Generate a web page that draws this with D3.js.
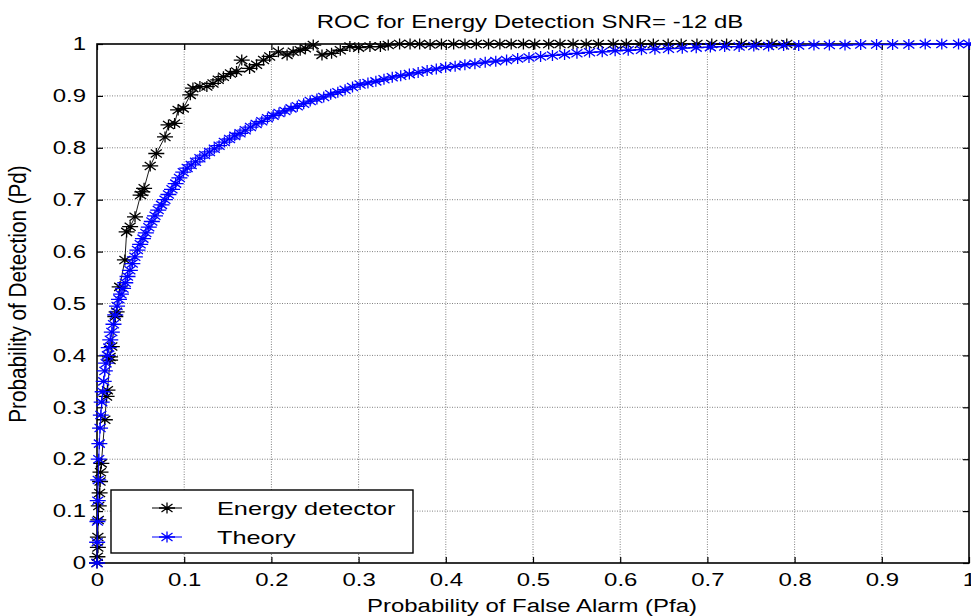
<!DOCTYPE html>
<html>
<head>
<meta charset="utf-8">
<script src="https://cdn.jsdelivr.net/npm/d3@7/dist/d3.min.js"></script>
<style>
  body { margin: 0; background: #fff; }
  svg { display: block; font-family: "Liberation Sans", Arial, sans-serif; }
  .grid line { stroke: #808080; stroke-width: 1; stroke-dasharray: 1,1.5; }
  .tick text { font-size: 18px; fill: #000; }
</style>
</head>
<body>
<svg id="chart"></svg>
<script>
// ROC curve, energy detection at SNR = -12 dB
var titleText = "ROC for Energy Detection SNR= -12 dB",
  xLabelText = "Probability of False Alarm (Pfa)",
  yLabelText = "Probability of Detection (Pd)",
  legendLabels = ["Energy detector", "Theory"];

var xTicks = [0, 0.1, 0.2, 0.3, 0.4, 0.5, 0.6, 0.7, 0.8, 0.9, 1],
  xTickLabels = ["0", "0.1", "0.2", "0.3", "0.4", "0.5", "0.6", "0.7", "0.8", "0.9", "1"],
  yTicks = [0, 0.1, 0.2, 0.3, 0.4, 0.5, 0.6, 0.7, 0.8, 0.9, 1],
  yTickLabels = ["0", "0.1", "0.2", "0.3", "0.4", "0.5", "0.6", "0.7", "0.8", "0.9", "1"];

// simulated detector (black)
var pfSim = [0, 0.0005, 0.001, 0.001, 0.0015, 0.002, 0.003, 0.0035, 0.004, 0.005,
  0.009, 0.011, 0.012, 0.015, 0.015, 0.017, 0.021, 0.0225, 0.026, 0.032,
  0.034, 0.038, 0.0436, 0.05, 0.052, 0.054, 0.061, 0.068, 0.078, 0.082,
  0.089, 0.093, 0.099, 0.107, 0.110, 0.118, 0.126, 0.133, 0.139, 0.145,
  0.153, 0.160, 0.166, 0.175, 0.183, 0.191, 0.198, 0.208, 0.218, 0.225,
  0.233, 0.239, 0.248, 0.258, 0.269, 0.279, 0.29, 0.30, 0.313, 0.325,
  0.334, 0.347, 0.359, 0.37, 0.382, 0.395, 0.409, 0.422, 0.435, 0.449,
  0.462, 0.475, 0.489, 0.502, 0.518, 0.531, 0.546, 0.561, 0.575, 0.592,
  0.607, 0.623, 0.638, 0.655, 0.67, 0.688, 0.705, 0.722, 0.739, 0.756,
  0.774, 0.791];
var pdSim = [0, 0.012, 0.03, 0.05, 0.083, 0.11, 0.135, 0.157, 0.175, 0.192,
  0.276, 0.321, 0.333, 0.391, 0.397, 0.417, 0.475, 0.484, 0.532, 0.584,
  0.638, 0.648, 0.667, 0.709, 0.715, 0.722, 0.765, 0.789, 0.821, 0.844,
  0.847, 0.873, 0.876, 0.902, 0.915, 0.918, 0.918, 0.924, 0.931, 0.937,
  0.943, 0.947, 0.969, 0.953, 0.96, 0.969, 0.976, 0.985, 0.979, 0.985,
  0.988, 0.992, 0.998, 0.979, 0.982, 0.988, 0.995, 0.993, 0.995, 0.995,
  0.998, 1, 1, 1, 0.999, 1, 1, 1, 1, 1,
  1, 1, 1, 1, 1, 1, 1, 1, 1, 1,
  1, 1, 1, 1, 1, 1, 1, 1, 1, 1,
  1, 1];

// theoretical curve (blue)
var pfTheory = [0, 0.0002, 0.0005, 0.0009, 0.0014, 0.002, 0.0027, 0.0035, 0.0044, 0.0054,
  0.0065, 0.0077, 0.009, 0.0104, 0.0119, 0.0135, 0.0152, 0.017, 0.0189, 0.0209,
  0.023, 0.0252, 0.0275, 0.0299, 0.0324, 0.035, 0.0377, 0.0405, 0.0434, 0.0464,
  0.0495, 0.0527, 0.056, 0.0594, 0.0629, 0.0665, 0.0702, 0.074, 0.0779, 0.0819,
  0.086, 0.0902, 0.0945, 0.0989, 0.1034, 0.108, 0.113, 0.118, 0.1235, 0.129,
  0.1345, 0.14, 0.146, 0.152, 0.158, 0.164, 0.170, 0.176, 0.1825, 0.189,
  0.1955, 0.202, 0.2087, 0.2155, 0.2225, 0.2297, 0.237, 0.2445, 0.2522, 0.26,
  0.268, 0.2762, 0.2845, 0.293, 0.3017, 0.3107, 0.3198, 0.3291, 0.3386, 0.3483,
  0.3582, 0.3683, 0.3786, 0.3891, 0.3998, 0.4107, 0.4219, 0.4334, 0.4452, 0.4573,
  0.4697, 0.4824, 0.4954, 0.5087, 0.5223, 0.5362, 0.5504, 0.5648, 0.5794, 0.5942,
  0.6092, 0.6244, 0.6398, 0.6554, 0.6712, 0.6872, 0.7034, 0.7198, 0.7364, 0.7532,
  0.7702, 0.7874, 0.8047, 0.8222, 0.8399, 0.8578, 0.8758, 0.894, 0.9124, 0.931,
  0.9498, 0.9688, 0.988, 1];
var pdTheory = [0, 0.04, 0.08, 0.12, 0.16, 0.2, 0.23, 0.26, 0.285, 0.31,
  0.33, 0.35, 0.37, 0.385, 0.40, 0.415, 0.43, 0.445, 0.46, 0.478,
  0.495, 0.508, 0.518, 0.529, 0.54, 0.552, 0.564, 0.577, 0.59, 0.603,
  0.614, 0.625, 0.636, 0.647, 0.658, 0.669, 0.68, 0.69, 0.70, 0.71,
  0.72, 0.731, 0.742, 0.753, 0.761, 0.767, 0.773, 0.780, 0.786, 0.792,
  0.798, 0.804, 0.811, 0.817, 0.823, 0.828, 0.834, 0.840, 0.846, 0.851,
  0.857, 0.862, 0.867, 0.871, 0.876, 0.880, 0.885, 0.890, 0.894, 0.898,
  0.903, 0.907, 0.912, 0.917, 0.922, 0.925, 0.928, 0.932, 0.936, 0.939,
  0.942, 0.945, 0.949, 0.952, 0.955, 0.957, 0.960, 0.962, 0.965, 0.967,
  0.969, 0.972, 0.974, 0.976, 0.978, 0.980, 0.982, 0.984, 0.985, 0.987,
  0.988, 0.989, 0.990, 0.991, 0.992, 0.993, 0.994, 0.995, 0.995, 0.996,
  0.996, 0.997, 0.997, 0.998, 0.998, 0.998, 0.999, 0.999, 0.999, 0.999,
  1, 1, 1, 1];

var RocChart = (function(){

  var that = {},
    width = 971,
    height = 616,
    left = 97,
    right = 969,
    top = 44,
    bottom = 563,
    stretch = 1.33, // the original picture is wider than it is tall
    colors = ["#000000", "#0000ff"],
    svg,
    x,
    y;

  // matlab style asterisk, a bit wider than high
  var asterisk = "M-8,0H8M0,-5.5V5.5M-5.5,-4L5.5,4M-5.5,4L5.5,-4";

  function pairs(xs, ys){
    var n = Math.min(xs.length, ys.length), out = [];
    for (var i = 0; i < n; i++) out.push([xs[i], ys[i]]);
    return out;
  }

  function widen(sel, factor){
    sel.each(function(){
      var w = this.getComputedTextLength();
      d3.select(this).attr("textLength", w * factor).attr("lengthAdjust", "spacingAndGlyphs");
    });
  }

  function init(){
    svg = d3.select("#chart")
      .attr("width", width)
      .attr("height", height);

    svg.append("rect").attr("width", width).attr("height", height).attr("fill", "#fff");

    x = d3.scaleLinear().domain([0, 1]).range([left, right]);
    y = d3.scaleLinear().domain([0, 1]).range([bottom, top]);

    drawGrid();
    drawAxes();
    drawSeries(pairs(pfSim, pdSim), colors[0]);
    drawSeries(pairs(pfTheory, pdTheory), colors[1]);
    drawLegend();
    drawLabels();
  }

  function drawGrid(){
    var grid = svg.append("g").attr("class", "grid");
    grid.selectAll(".gx")
      .data(xTicks.slice(1, -1)).enter()
      .append("line")
      .attr("x1", function(d){ return x(d) }).attr("x2", function(d){ return x(d) })
      .attr("y1", top).attr("y2", bottom);
    grid.selectAll(".gy")
      .data(yTicks.slice(1, -1)).enter()
      .append("line")
      .attr("y1", function(d){ return y(d) }).attr("y2", function(d){ return y(d) })
      .attr("x1", left).attr("x2", right);
  }

  function drawAxes(){
    var xAxis = d3.axisBottom(x).tickValues(xTicks)
      .tickFormat(function(d, i){ return xTickLabels[i] })
      .tickSize(-6).tickPadding(10);
    var yAxis = d3.axisLeft(y).tickValues(yTicks)
      .tickFormat(function(d, i){ return yTickLabels[i] })
      .tickSize(-6).tickPadding(11);

    var gx = svg.append("g").attr("transform", "translate(0," + bottom + ")").call(xAxis);
    var gy = svg.append("g").attr("transform", "translate(" + left + ",0)").call(yAxis);
    svg.append("g").attr("transform", "translate(0," + top + ")")
      .call(d3.axisTop(x).tickValues(xTicks).tickFormat("").tickSize(-6));
    svg.append("g").attr("transform", "translate(" + right + ",0)")
      .call(d3.axisRight(y).tickValues(yTicks).tickFormat("").tickSize(-6));

    svg.selectAll(".domain").remove();
    svg.selectAll(".tick line").attr("stroke", "#000").attr("stroke-width", 1.2);
    gx.selectAll("text").call(widen, stretch);
    gy.selectAll("text").call(widen, stretch);

    svg.append("rect")
      .attr("x", left).attr("y", top)
      .attr("width", right - left).attr("height", bottom - top)
      .attr("fill", "none").attr("stroke", "#000").attr("stroke-width", 1.6);
  }

  function drawSeries(data, color){
    var line = d3.line()
      .x(function(d){ return x(d[0]) })
      .y(function(d){ return y(d[1]) });

    var g = svg.append("g");
    g.append("path")
      .datum(data)
      .attr("d", line)
      .attr("fill", "none")
      .attr("stroke", color)
      .attr("stroke-width", 0.9);

    g.selectAll(".mark")
      .data(data).enter()
      .append("path")
      .attr("class", "mark")
      .attr("transform", function(d){ return "translate(" + x(d[0]) + "," + y(d[1]) + ")" })
      .attr("d", asterisk)
      .attr("fill", "none")
      .attr("stroke", color)
      .attr("stroke-width", 1.3);
  }

  function drawLegend(){
    var box = svg.append("g");
    box.append("rect")
      .attr("x", 111).attr("y", 490)
      .attr("width", 302).attr("height", 63)
      .attr("fill", "#fff").attr("stroke", "#000").attr("stroke-width", 1.4);

    var rows = box.selectAll(".entry")
      .data(legendLabels).enter()
      .append("g")
      .attr("class", "entry")
      .attr("transform", function(d, i){ return "translate(0," + (508 + i * 29) + ")" });

    rows.append("line")
      .attr("x1", 152).attr("x2", 182)
      .attr("stroke", function(d, i){ return colors[i] })
      .attr("stroke-width", 1);
    rows.append("path")
      .attr("transform", "translate(167,0)")
      .attr("d", asterisk)
      .attr("fill", "none")
      .attr("stroke", function(d, i){ return colors[i] })
      .attr("stroke-width", 1.3);
    rows.append("text")
      .attr("x", 217).attr("y", 7)
      .style("font-size", "19px")
      .text(function(d){ return d })
      .call(widen, stretch);
  }

  function drawLabels(){
    svg.append("text")
      .attr("x", 530).attr("y", 28)
      .attr("text-anchor", "middle")
      .style("font-size", "18px")
      .text(titleText)
      .call(widen, stretch);

    svg.append("text")
      .attr("x", 532).attr("y", 612)
      .attr("text-anchor", "middle")
      .style("font-size", "18px")
      .text(xLabelText)
      .call(widen, stretch);

    svg.append("text")
      .attr("transform", "translate(26,294) rotate(-90) scale(1," + stretch + ")")
      .attr("text-anchor", "middle")
      .style("font-size", "18px")
      .text(yLabelText)
      .call(widen, 1.15);
  }

  that.init = init;
  return that;
})();

RocChart.init();
</script>
</body>
</html>
